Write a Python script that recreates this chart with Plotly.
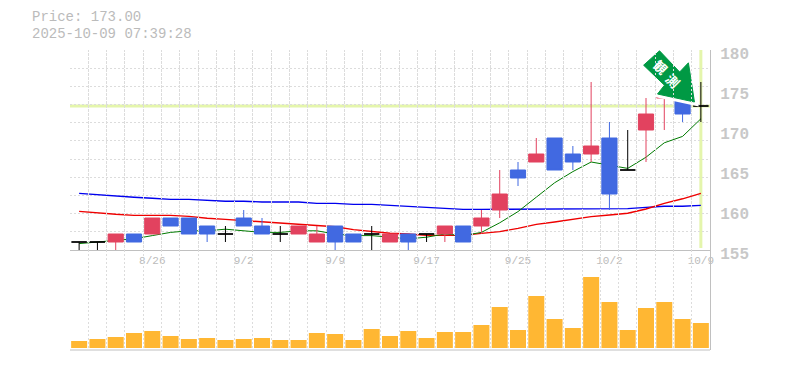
import numpy as np
import plotly.graph_objects as go

dates = ["8/20","8/21","8/22","8/25","8/26","8/27","8/28","8/29","9/1","9/2","9/3","9/4","9/5","9/8","9/9","9/10","9/11","9/12",
         "9/16","9/17","9/18","9/19","9/22","9/24","9/25","9/26","9/29","9/30","10/1","10/2","10/3","10/6","10/7","10/8","10/9"]
labelled_dates = ["8/26","9/2","9/9","9/17","9/25","10/2","10/9"]
opens = [156,156,156,157,157,159,159,158,157,159,158,157,157,156,158,157,157,156,157,157,157,158,158,160,165,166,169,167,167,169,165,170,174,174,173]
highs = [156,156,157,157,159,159,159,158,158,160,159,158,158,158,158,157,158,157,157,157,158,158,160,165,166,169,169,168,176,171,170,174,175,174,176]
lows = [155,155,155,156,157,158,157,156,156,158,157,156,157,156,155,156,155,156,155,156,156,156,157,159,163,166,165,165,166,160,165,166,170,171,171]
closes = [156,156,157,156,159,158,157,157,157,158,157,157,158,157,156,156,157,157,156,157,158,156,159,162,164,167,165,166,168,162,165,172,175,172,173]
ma_short = [155.8,156.0,156.2,156.4,156.8,157.2,157.4,157.4,157.6,157.4,157.2,157.2,157.4,157.4,157.0,156.8,156.8,156.6,156.4,156.6,157.0,156.8,157.2,158.4,159.8,161.6,163.4,164.8,166.0,165.6,165.2,166.6,168.4,169.2,171.4]
ma_mid = [159.83,159.6,159.46,159.33,159.33,159.33,159.2,158.96,158.83,158.67,158.46,158.33,158.2,158.04,157.9,157.54,157.33,157.1,157.0,156.83,156.83,156.83,157.08,157.3,157.7,158.2,158.5,158.83,159.17,159.38,159.6,160.13,160.83,161.4,162.08]
ma_long = [162.08,161.9,161.7,161.6,161.46,161.33,161.33,161.2,161.1,161.1,161.0,161.0,161.0,160.83,160.83,160.7,160.7,160.58,160.46,160.33,160.2,160.08,160.08,160.08,160.08,160.08,160.08,160.08,160.17,160.17,160.17,160.33,160.46,160.46,160.58]
volumes = [7,9,11,15,17,12,9,10,8,9,10,8,8,15,14,8,19,12,17,10,16,16,23,41,18,52,29,20,71,46,18,40,46,29,25]
price_ticks = [155,160,165,170,175,180]
last_price = 173
header_price = "Price: 173.00"
header_time = "2025-10-09 07:39:28"
arrow_chars = ["観","測"]

GRID = "#dcdcdc"
AXIS = "#c0c0c0"
UP = "#e2425f"
DOWN = "#4169e1"
HL = "#e4f5ac"
OFF = 8  # default page margin of the browser
W, H = 785, 370
L, R, T, B = 70, 75, 50, 20
PW, PH = W - L - R, H - T - B
def px(x): return (x - L) / PW
def py(y): return (H - B - y) / PH

x = np.arange(len(dates))
o, h, l, c = map(np.array, (opens, highs, lows, closes))
doji = o == c

fig = go.Figure()
fig.add_trace(go.Bar(x=x, y=volumes, yaxis="y2", marker=dict(color="#ffb733", line_width=0), showlegend=False))
for vals, color, width in ((ma_long, "#0000ee", 1.4), (ma_mid, "#ee0000", 1.4), (ma_short, "#007a00", 1)):
    fig.add_trace(go.Scatter(x=x, y=vals, mode="lines", line=dict(color=color, width=width), yaxis="y", showlegend=False))
fig.add_trace(go.Candlestick(x=x[~doji], open=o[~doji], high=h[~doji], low=l[~doji], close=c[~doji], yaxis="y3", whiskerwidth=0,
    increasing=dict(line=dict(color=UP, width=1), fillcolor=UP),
    decreasing=dict(line=dict(color=DOWN, width=1), fillcolor=DOWN), showlegend=False))
fig.add_trace(go.Candlestick(x=x[doji], open=o[doji], high=h[doji], low=l[doji], close=c[doji], yaxis="y3", whiskerwidth=0,
    increasing=dict(line=dict(color="#000000", width=1), fillcolor="#000000"),
    decreasing=dict(line=dict(color="#000000", width=1), fillcolor="#000000"), showlegend=False))
fig.add_trace(go.Scatter(x=[x[0]], y=[price_ticks[0]], mode="none", yaxis="y4", showlegend=False, hoverinfo="skip"))

# marker arrow, given as (session index, price); drawn in the candle subplot so it sits above the candles.
# The white stroke is the halo that surrounds the arrow in the reference.
arrow_x = [31.74, 30.87, 32.01, 31.63, 33.65, 33.32, 32.84, 31.74]
arrow_y = [179.9, 178.1, 175.6, 174.5, 173.5, 178.4, 177.25, 179.9]
fig.add_trace(go.Scatter(x=arrow_x, y=arrow_y, mode="lines", fill="toself", fillcolor="#009944",
                         line=dict(color="white", width=7), yaxis="y3", showlegend=False, hoverinfo="skip"))
fig.add_trace(go.Scatter(x=arrow_x, y=arrow_y, mode="lines", fill="toself", fillcolor="#009944",
                         line=dict(color="#009944", width=1), yaxis="y3", showlegend=False, hoverinfo="skip"))

head_font = dict(family="Liberation Mono", size=14, color="#bbbbbb")
char_font = dict(family="Noto Sans CJK JP", size=13, color="white", weight="bold")

fig.update_layout(
    width=W - OFF, height=H - OFF, autosize=False, margin=dict(l=L - OFF, r=R, t=T - OFF, b=B, pad=0, autoexpand=False),
    paper_bgcolor="white", plot_bgcolor="rgba(0,0,0,0)", barmode="overlay", bargap=0.125, boxgap=0.17, boxgroupgap=0,
    xaxis=dict(range=[-0.5, len(dates) - 0.5], anchor="y", rangeslider=dict(visible=False), showgrid=False, zeroline=False,
        tickmode="array", tickvals=[dates.index(d) for d in labelled_dates], ticktext=labelled_dates, ticks="",
        tickfont=dict(family="Liberation Mono", size=11, color="#bbbbbb"), showline=True, linecolor=AXIS, linewidth=1,
        minor=dict(tick0=-0.5, dtick=1, showgrid=True, gridcolor=GRID, griddash="2px,2px", gridwidth=1, ticks="")),
    yaxis=dict(domain=[py(250), 1], range=[155, 180], tick0=155, dtick=25/11, showgrid=True, gridcolor=GRID, griddash="2px,2px",
        gridwidth=1, zeroline=False, showticklabels=False, ticks="", side="right", showline=True, linecolor=AXIS, linewidth=1),
    yaxis2=dict(domain=[0, py(250)], range=[-2, 98], showgrid=False, zeroline=False, showticklabels=False, ticks="",
        side="right", showline=True, linecolor=AXIS, linewidth=1),
    yaxis3=dict(overlaying="y", range=[155, 180], visible=False),
    yaxis4=dict(domain=[py(253), py(53)], range=[155, 180], side="right", showgrid=False, zeroline=False, showline=False,
        tickmode="array", tickvals=price_ticks, ticktext=[str(v) for v in price_ticks], ticks="outside", ticklen=6,
        tickcolor="rgba(0,0,0,0)", tickfont=dict(family="Liberation Mono", size=16, color="#c8c8c8", weight="bold"), anchor="x"),
    shapes=[
        dict(type="line", xref="paper", yref="y", x0=0, x1=1, y0=last_price, y1=last_price, line=dict(color=HL, width=3), layer="below"),
        dict(type="line", xref="x", yref="paper", x0=int(x[-1]), x1=int(x[-1]), y0=py(248), y1=1, line=dict(color=HL, width=3), layer="below"),
        dict(type="line", xref="paper", yref="paper", x0=0, x1=1, y0=0, y1=0, line=dict(color=AXIS, width=1)),
    ],
    annotations=[
        dict(text=header_price, xref="paper", yref="paper", x=px(30), y=py(17.5), xanchor="left", yanchor="middle", showarrow=False, font=head_font),
        dict(text=header_time, xref="paper", yref="paper", x=px(30), y=py(33.5), xanchor="left", yanchor="middle", showarrow=False, font=head_font),
        dict(text=arrow_chars[0], xref="paper", yref="paper", x=px(660), y=py(67), xanchor="center", yanchor="middle", textangle=45, showarrow=False, font=char_font),
        dict(text=arrow_chars[1], xref="paper", yref="paper", x=px(673), y=py(80), xanchor="center", yanchor="middle", textangle=45, showarrow=False, font=char_font),
    ],
)
fig.write_html("out.html")
